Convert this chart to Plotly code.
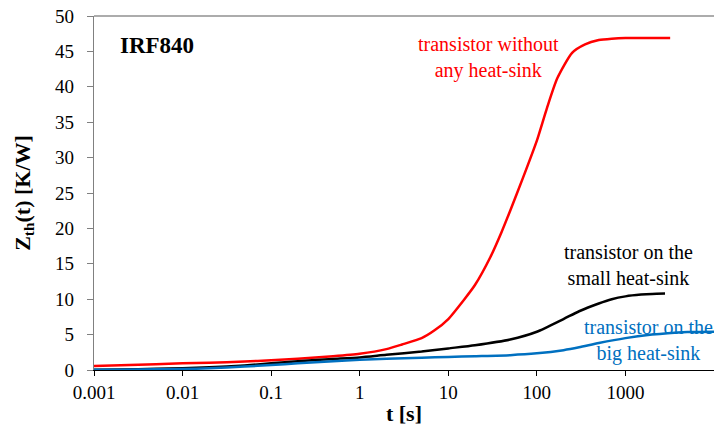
import plotly.graph_objects as go

FONT = "Liberation Serif"

t_red = [0.001, 0.002, 0.005, 0.01, 0.02, 0.05, 0.1, 0.2, 0.5, 1, 2, 3, 5, 7, 10, 15, 20, 30, 40, 50,
         70, 100, 130, 170, 250, 350, 500, 700, 1000, 2000, 3200]
z_red = [0.56, 0.68, 0.82, 0.94, 1.03, 1.2, 1.37, 1.6, 1.95, 2.3, 2.95, 3.6, 4.5, 5.6, 7.2, 9.9, 12.0, 16.0, 19.5, 22.5,
         27.2, 32.4, 37.0, 41.2, 44.8, 46.0, 46.6, 46.8, 46.9, 46.9, 46.9]

t_black = [0.001, 0.002, 0.005, 0.01, 0.02, 0.05, 0.1, 0.2, 0.5, 1, 2, 5, 10, 20, 50, 100, 200, 300, 500, 700,
           1000, 1500, 2000, 2800]
z_black = [0.03, 0.08, 0.16, 0.24, 0.38, 0.65, 0.94, 1.25, 1.55, 1.78, 2.15, 2.6, 3.05, 3.5, 4.3, 5.4, 7.2, 8.3, 9.4, 10.0,
           10.4, 10.65, 10.75, 10.8]

t_blue = [0.001, 0.002, 0.005, 0.01, 0.02, 0.05, 0.1, 0.2, 0.5, 1, 2, 5, 10, 20, 50, 100, 200, 300, 500, 1000,
          2000, 3000, 5000, 10000]
z_blue = [0.02, 0.05, 0.1, 0.14, 0.25, 0.48, 0.7, 0.95, 1.25, 1.45, 1.6, 1.72, 1.85, 1.95, 2.1, 2.35, 2.8, 3.2, 3.8, 4.5,
          5.0, 5.2, 5.35, 5.4]

x_ticks = [0.001, 0.01, 0.1, 1, 10, 100, 1000]
x_tick_labels = ["0.001", "0.01", "0.1", "1", "10", "100", "1000"]
y_ticks = [0, 5, 10, 15, 20, 25, 30, 35, 40, 45, 50]

fig = go.Figure()
for tx, zy, col in [(t_red, z_red, "#FF0000"), (t_black, z_black, "#000000"), (t_blue, z_blue, "#0070C0")]:
    fig.add_trace(go.Scatter(x=tx, y=zy, mode="lines",
                             line=dict(color=col, width=2.5, shape="spline", smoothing=0.6),
                             showlegend=False))

fig.update_layout(
    width=714, height=429,
    margin=dict(l=94, r=0, t=16, b=59),
    paper_bgcolor="white", plot_bgcolor="white",
    font=dict(family=FONT, size=19, color="black"),
    xaxis=dict(type="log", range=[-3, 4], tickvals=x_ticks, ticktext=x_tick_labels,
               showgrid=False, zeroline=False, showline=True, linecolor="#000000", linewidth=1,
               ticks="outside", ticklen=5, tickcolor="#000000",
               tickfont=dict(family=FONT, size=19),
               title=dict(text="<b>t [s]</b>", font=dict(size=22, family=FONT), standoff=3)),
    yaxis=dict(range=[0, 50], tickvals=y_ticks, showgrid=False, zeroline=False,
               showline=True, linecolor="#808080", linewidth=1.3,
               ticks="outside", ticklen=6, tickcolor="#808080",
               tickfont=dict(family=FONT, size=19), ticklabelstandoff=9,
               title=dict(text="<b>Z<sub>th</sub>(t) [K/W]</b>", font=dict(size=22, family=FONT), standoff=18)),
)

fig.add_shape(type="line", xref="paper", yref="paper", x0=0, x1=1, y0=1, y1=1,
              line=dict(color="#909090", width=1.3))

fig.add_annotation(text="<b>IRF840</b>", xref="paper", yref="paper", x=0.038, y=0.918,
                   xanchor="left", yanchor="middle", showarrow=False, font=dict(size=23, family=FONT))
fig.add_annotation(text="transistor without<br>any heat-sink", x=(488 - 94) / 620 * 7 - 3, y=44.1,
                   xanchor="center", yanchor="middle", showarrow=False,
                   font=dict(size=20, family=FONT, color="#FF0000"))
fig.add_annotation(text="transistor on the<br>small heat-sink", x=(628 - 94) / 620 * 7 - 3, y=14.8,
                   xanchor="center", yanchor="middle", showarrow=False,
                   font=dict(size=20, family=FONT, color="#000000"))
fig.add_annotation(text="transistor on the<br>big heat-sink", x=(648 - 94) / 620 * 7 - 3, y=4.2,
                   xanchor="center", yanchor="middle", showarrow=False,
                   font=dict(size=20, family=FONT, color="#0070C0"))

fig.write_html("out.html")
